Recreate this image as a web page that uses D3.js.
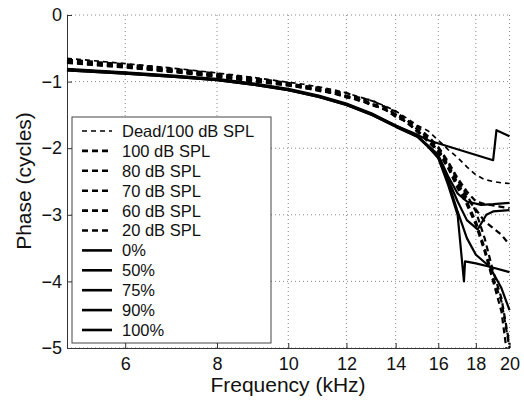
<!DOCTYPE html>
<html>
<head>
<meta charset="utf-8">
<script src="https://cdn.jsdelivr.net/npm/d3@7/dist/d3.min.js"></script>
<style>
  body { margin: 0; background: #fff; }
  svg { font-family: "Liberation Sans", Arial, sans-serif; }
</style>
</head>
<body>
<div id="chart"></div>
<script>
// tick values
const xTicks = [6, 8, 10, 12, 14, 16, 18, 20];
const yTicks = [0, -1, -2, -3, -4, -5];

// dashed curves: [frequency kHz, phase cycles]
const dead100 = [[5,-0.65],[6,-0.73],[7,-0.80],[8,-0.87],[9,-0.94],[10,-1.01],[10.5,-1.04],[11,-1.08],[11.5,-1.12],[12,-1.17],[12.5,-1.23],[13,-1.29],[13.5,-1.36],[14,-1.44],[14.5,-1.55],[15,-1.66],[15.5,-1.74],[16,-1.88],[16.5,-2.02],[17,-2.14],[17.5,-2.28],[18,-2.40],[18.5,-2.47],[19,-2.50],[19.5,-2.52],[20,-2.53]];
const spl100 = [[5,-0.67],[6,-0.74],[7,-0.81],[8,-0.88],[9,-0.95],[10,-1.02],[10.5,-1.07],[11,-1.09],[11.5,-1.15],[12,-1.17],[12.5,-1.25],[13,-1.28],[13.5,-1.38],[14,-1.45],[14.5,-1.58],[15,-1.68],[15.5,-1.82],[16,-1.98],[16.5,-2.2],[17,-2.45],[17.5,-2.65],[18,-2.8],[18.5,-2.84],[19,-2.86],[19.5,-2.88],[20,-2.9]];
const spl80 = [[5,-0.70],[6,-0.77],[7,-0.84],[8,-0.90],[9,-0.97],[10,-1.04],[10.5,-1.06],[11,-1.12],[11.5,-1.14],[12,-1.22],[12.5,-1.24],[13,-1.34],[13.5,-1.37],[14,-1.50],[14.5,-1.58],[15,-1.72],[15.5,-1.85],[16,-2.0],[16.5,-2.22],[17,-2.48],[17.5,-2.7],[18,-2.95],[18.5,-3.35],[19,-3.85],[19.5,-4.25],[20,-4.95]];
const spl70 = [[5,-0.69],[6,-0.76],[7,-0.83],[8,-0.91],[9,-0.98],[10,-1.05],[10.5,-1.08],[11,-1.13],[11.5,-1.17],[12,-1.23],[12.5,-1.28],[13,-1.35],[13.5,-1.41],[14,-1.52],[14.5,-1.61],[15,-1.74],[15.5,-1.88],[16,-2.03],[16.5,-2.28],[17,-2.55],[17.5,-2.8],[18,-3.1],[18.5,-3.5],[19,-3.95],[19.5,-4.3],[20,-5.0]];
const spl60 = [[5,-0.71],[6,-0.78],[7,-0.85],[8,-0.92],[9,-0.99],[10,-1.05],[10.5,-1.10],[11,-1.12],[11.5,-1.18],[12,-1.21],[12.5,-1.29],[13,-1.33],[13.5,-1.42],[14,-1.49],[14.5,-1.62],[15,-1.75],[15.5,-1.90],[16,-2.06],[16.5,-2.3],[17,-2.6],[17.5,-2.85],[18,-3.15],[18.5,-3.55],[19,-4.0],[19.5,-4.45],[19.8,-5.0]];
const spl20 = [[5,-0.72],[6,-0.79],[7,-0.86],[8,-0.93],[9,-1.0],[10,-1.06],[10.5,-1.09],[11,-1.14],[11.5,-1.17],[12,-1.24],[12.5,-1.27],[13,-1.36],[13.5,-1.40],[14,-1.53],[14.5,-1.60],[15,-1.76],[15.5,-1.9],[16,-2.02],[16.5,-2.25],[17,-2.52],[17.5,-2.75],[18,-2.92],[18.5,-3.1],[19,-3.2],[19.5,-3.3],[20,-3.45]];

// solid curves
const pct0 = [[5,-0.81],[6,-0.86],[7,-0.91],[8,-0.96],[9,-1.03],[10,-1.11],[11,-1.21],[12,-1.33],[13,-1.48],[14,-1.66],[15,-1.80],[15.5,-1.88],[19,-2.18],[19.2,-1.73],[20,-1.82]];
const pct50 = [[5,-0.82],[6,-0.87],[7,-0.92],[8,-0.97],[9,-1.04],[10,-1.12],[11,-1.22],[12,-1.34],[13,-1.49],[14,-1.67],[15,-1.82],[15.5,-1.97],[16,-2.15],[16.5,-2.55],[17,-3.0],[17.34,-4.0],[17.4,-3.7],[18,-3.73],[18.8,-3.78],[20,-3.86]];
const pct75 = [[5,-0.83],[6,-0.88],[7,-0.93],[8,-0.98],[9,-1.05],[10,-1.13],[11,-1.23],[12,-1.35],[13,-1.50],[14,-1.68],[15,-1.83],[15.5,-1.98],[16,-2.14],[16.5,-2.5],[17,-2.95],[17.5,-3.35],[18,-3.6],[18.8,-3.78],[19.5,-4.1],[20,-4.43]];
const pct90 = [[5,-0.82],[6,-0.87],[7,-0.92],[8,-0.97],[9,-1.04],[10,-1.12],[11,-1.22],[12,-1.34],[13,-1.49],[14,-1.66],[15,-1.82],[15.5,-1.96],[16,-2.1],[16.5,-2.42],[17,-2.68],[17.5,-2.8],[18.3,-2.85],[19,-2.84],[20,-2.82]];
const pct100 = [[5,-0.83],[6,-0.88],[7,-0.93],[8,-0.98],[9,-1.05],[10,-1.13],[11,-1.23],[12,-1.35],[13,-1.50],[14,-1.67],[15,-1.83],[15.5,-1.97],[16,-2.12],[16.5,-2.47],[17,-2.8],[17.5,-3.08],[18.1,-3.22],[18.6,-3.0],[19,-2.95],[20,-2.93]];

const legendLabels = ['Dead/100 dB SPL', '100 dB SPL', '80 dB SPL', '70 dB SPL', '60 dB SPL', '20 dB SPL', '0%', '50%', '75%', '90%', '100%'];
const seriesData = [dead100, spl100, spl80, spl70, spl60, spl20, pct0, pct50, pct75, pct90, pct100];
const lineKinds = ['thin', 'dash', 'dash', 'dash', 'dash', 'dash', 'solid', 'solid', 'solid', 'solid', 'solid'];

const width = 524, height = 402;
const margin = {top: 15, right: 14, bottom: 54, left: 67};

const styles = {
  thin:  {w: 1.7, dash: '5,4'},
  dash:  {w: 2.2, dash: '6,4'},
  solid: {w: 2.2, dash: null}
};

const svg = d3.select('#chart')
  .append('svg')
    .attr('width', width)
    .attr('height', height);

const xScale = d3.scaleLog()
  .domain([5, 20])
  .range([margin.left, width - margin.right - 0.5]);

const yScale = d3.scaleLinear()
  .domain([-5, 0])
  .range([height - margin.bottom, margin.top]);

// dotted grid
const grid = svg.append('g').attr('class', 'grid');
xTicks.forEach(t => {
  grid.append('line')
    .attr('x1', xScale(t)).attr('x2', xScale(t))
    .attr('y1', yScale(0)).attr('y2', yScale(-5))
    .attr('stroke', '#888').attr('stroke-width', 1)
    .attr('stroke-dasharray', '1,3');
});
yTicks.forEach(t => {
  grid.append('line')
    .attr('x1', xScale(5)).attr('x2', xScale(20))
    .attr('y1', yScale(t)).attr('y2', yScale(t))
    .attr('stroke', '#888').attr('stroke-width', 1)
    .attr('stroke-dasharray', '1,3');
});

// axes, ticks pointing inward
const xAxis = d3.axisBottom(xScale)
  .tickValues(xTicks)
  .tickFormat(d3.format('d'))
  .tickSizeInner(-5)
  .tickSizeOuter(0)
  .tickPadding(9);
svg.append('g')
  .attr('class', 'x axis')
  .attr('transform', 'translate(0,' + yScale(-5) + ')')
  .call(xAxis);

const yAxis = d3.axisLeft(yScale)
  .tickValues(yTicks)
  .tickFormat(d => d === 0 ? '0' : '\u2212' + Math.abs(d))
  .tickSizeInner(-5)
  .tickSizeOuter(0)
  .tickPadding(5);
svg.append('g')
  .attr('class', 'y axis')
  .attr('transform', 'translate(' + xScale(5) + ',0)')
  .call(yAxis);

svg.selectAll('.axis path, .axis line').attr('stroke', '#333');
svg.selectAll('.axis text').style('font-size', '18px').attr('fill', '#111');

// curves
const line = d3.line()
  .x(d => xScale(d[0]))
  .y(d => yScale(d[1]));

const plot = svg.append('g');
seriesData.forEach((s, i) => {
  const st = styles[lineKinds[i]];
  plot.append('path')
    .attr('d', line(s))
    .attr('fill', 'none')
    .attr('stroke', '#000')
    .attr('stroke-width', st.w)
    .attr('stroke-linejoin', 'round')
    .attr('stroke-dasharray', st.dash);
});

// axis titles
svg.append('text')
  .attr('x', 288)
  .attr('y', 392)
  .attr('text-anchor', 'middle')
  .style('font-size', '21px')
  .attr('fill', '#111')
  .text('Frequency (kHz)');

svg.append('text')
  .attr('transform', 'translate(31,181) rotate(-90)')
  .attr('text-anchor', 'middle')
  .style('font-size', '21px')
  .attr('fill', '#111')
  .text('Phase (cycles)');

// legend
const legend = svg.append('g').attr('transform', 'translate(72,117)');
legend.append('rect')
  .attr('width', 199)
  .attr('height', 226)
  .attr('fill', '#fff')
  .attr('stroke', '#444')
  .attr('stroke-width', 1);

legendLabels.forEach((lab, i) => {
  const st = styles[lineKinds[i]];
  const yy = 14 + i * 19.9;
  legend.append('line')
    .attr('x1', 10).attr('x2', 40)
    .attr('y1', yy).attr('y2', yy)
    .attr('stroke', '#000')
    .attr('stroke-width', lineKinds[i] === 'thin' ? 1.4 : 2.6)
    .attr('stroke-dasharray', st.dash);
  legend.append('text')
    .attr('x', 50)
    .attr('y', yy)
    .attr('dy', '0.36em')
    .style('font-size', '16.5px')
    .attr('fill', '#111')
    .text(lab);
});
</script>
</body>
</html>
